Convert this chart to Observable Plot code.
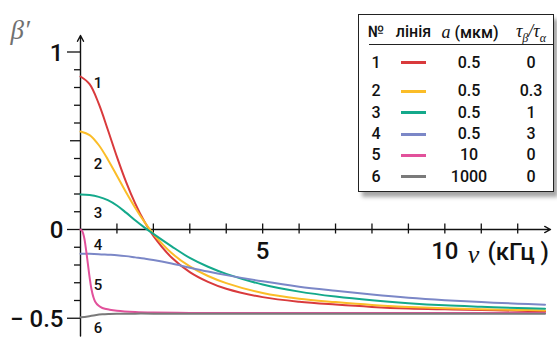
<!DOCTYPE html>
<html><head><meta charset="utf-8">
<script src="https://cdn.jsdelivr.net/npm/d3@7"></script>
<script src="https://cdn.jsdelivr.net/npm/@observablehq/plot@0.6"></script>
<style>
body{margin:0;background:#fff;}
#wrap{position:relative;width:557px;height:340px;font-family:Roboto,"Noto Sans",sans-serif;color:#111;}
#wrap svg{display:block;}
#legend{position:absolute;left:358px;top:14px;width:196px;height:178px;border:1px solid #222;background:#fff;
  box-shadow:4px 5px 4px rgba(0,0,0,0.35);box-sizing:border-box;font-size:16px;font-weight:500;}
#legend .c{position:absolute;transform:translate(-50%,-50%);white-space:nowrap;line-height:1;}
#legend .sw{position:absolute;height:3px;}
#legend .rule{position:absolute;height:1.3px;background:#222;}
.it{font-family:"Liberation Serif","DejaVu Serif",serif;font-style:italic;font-weight:400;}
</style></head><body><div id="wrap"></div>
<script>
// ---- data ----
const curveIds = ["1","2","3","4","5","6"];
const curveColors = ["#d93a3c","#fbbd28","#14a98b","#7b87c7","#e2519b","#7a7a7a"];
const aValues = ["0.5","0.5","0.5","0.5","10","1000"];
const tauRatios = ["0","0.3","1","3","0","0"];

const nuMain = [0,0.25,0.5,0.75,1,1.25,1.5,1.75,2,2.5,3,3.5,4,5,6,7,8,9,10,11,12,12.75];
const beta1 = [0.862,0.819,0.709,0.562,0.409,0.268,0.147,0.046,-0.036,-0.158,-0.240,-0.295,-0.334,-0.381,-0.407,-0.423,-0.436,-0.445,-0.450,-0.454,-0.458,-0.462];
const beta2 = [0.552,0.532,0.476,0.395,0.303,0.210,0.123,0.044,-0.025,-0.133,-0.208,-0.262,-0.302,-0.358,-0.390,-0.409,-0.425,-0.436,-0.444,-0.449,-0.453,-0.456];
const beta3 = [0.197,0.194,0.184,0.165,0.135,0.095,0.052,0.012,-0.025,-0.095,-0.160,-0.210,-0.250,-0.310,-0.350,-0.378,-0.399,-0.415,-0.427,-0.435,-0.442,-0.446];
const beta4 = [-0.137,-0.137,-0.139,-0.142,-0.145,-0.150,-0.157,-0.164,-0.172,-0.192,-0.215,-0.237,-0.257,-0.292,-0.322,-0.345,-0.366,-0.384,-0.398,-0.409,-0.418,-0.424];
const nuPink = [0,0.05,0.1,0.15,0.2,0.25,0.3,0.35,0.4,0.5,0.6,0.8,1,1.5,2,3,4,6,8,10,12.75];
const beta5 = [0,-0.01,-0.045,-0.11,-0.19,-0.27,-0.335,-0.378,-0.405,-0.43,-0.442,-0.452,-0.458,-0.465,-0.468,-0.470,-0.471,-0.471,-0.471,-0.471,-0.471];
const nuGray = [0,0.2,0.4,0.6,0.8,1,1.5,2,3,5,8,10,12.75];
const beta6 = [-0.495,-0.490,-0.483,-0.478,-0.476,-0.475,-0.474,-0.474,-0.474,-0.474,-0.474,-0.474,-0.474];

const yTickValues = [-0.5,-0.4,-0.3,-0.2,-0.1,0.1,0.2,0.3,0.4,0.5,0.6,0.7,0.8,0.9,1];
const xTickValues = [1,2,3,4,5,6,7,8,9,10,11,12];
const yTickLabels = ["1","0","− 0.5"];
const yTickLabelValues = [1,0,-0.5];
const xTickLabels = ["5","10"];
const xTickLabelValues = [5,10];

// ---- build tables ----
const series = [
  {x:nuMain,y:beta1},{x:nuMain,y:beta2},{x:nuMain,y:beta3},{x:nuMain,y:beta4},
  {x:nuPink,y:beta5},{x:nuGray,y:beta6}
].map((s,i)=>s.x.map((v,j)=>({nu:v,beta:s.y[j],id:curveIds[i]})));

const pxPerX = (550-80)/12.9, pxPerY = 177.5;
const lineMarks = series.map((d,i)=>Plot.line(d,{x:"nu",y:"beta",stroke:curveColors[i],strokeWidth:2,curve:"catmull-rom"}));

const labelY = [0.825,0.369,0.093,-0.087,-0.315,-0.555];
const curveLabels = curveIds.map((t,i)=>({t,y:labelY[i]}));

const font = "Roboto, 'Noto Sans', sans-serif";
const plot = Plot.plot({
  width:557, height:340,
  marginLeft:80, marginRight:7, marginTop:33.75, marginBottom:4.5,
  x:{domain:[0,12.9], axis:null},
  y:{domain:[-0.6,1.1], axis:null},
  style:{background:"transparent", overflow:"visible"},
  marks:[
    // y ticks
    Plot.ruleY(yTickValues,{y:d=>d,x1:0,x2:d=>-(d===1||d===-0.5?13:(d===0.5?10:6))/pxPerX,stroke:"#111",strokeWidth:1.3}),
    Plot.ruleY([0],{x1:-13/pxPerX,x2:0,stroke:"#111",strokeWidth:1.3}),
    // x ticks
    Plot.ruleX(xTickValues,{x:d=>d,y1:-4.5/pxPerY,y2:5.5/pxPerY,stroke:"#111",strokeWidth:1.3}),
    // axes with arrows
    Plot.arrow([{x1:0,y1:-0.6,x2:0,y2:1.093}],{x1:"x1",y1:"y1",x2:"x2",y2:"y2",stroke:"#111",strokeWidth:1.4,headLength:7,headAngle:55}),
    Plot.arrow([{x1:0,y1:0,x2:12.9,y2:0}],{x1:"x1",y1:"y1",x2:"x2",y2:"y2",stroke:"#111",strokeWidth:1.4,headLength:7,headAngle:55}),
    ...lineMarks,
    // tick labels
    Plot.text(yTickLabelValues,{x:0,y:d=>d,text:(d,i)=>yTickLabels[i],textAnchor:"end",
      fontSize:24,fontWeight:500,fontFamily:font,fill:"#111",dx:-17,dy:1}),
    Plot.text(xTickLabelValues,{x:d=>d,y:0,text:(d,i)=>xTickLabels[i],dy:22,fontSize:24,fontWeight:500,fontFamily:font,fill:"#111"}),
    // axis titles
    Plot.text(["ν"],{x:(473-80)/pxPerX,y:0,dy:25,fontSize:26,fontFamily:"'Liberation Serif','DejaVu Serif',serif",fontStyle:"italic",fill:"#111"}),
    Plot.text(["(кГц )"],{x:(487-80)/pxPerX,y:0,dy:23,textAnchor:"start",fontSize:24,fontWeight:500,fontFamily:font,fill:"#111"}),
    Plot.text(["β′"],{frameAnchor:"top-left",dx:-70,dy:-14,textAnchor:"start",fontSize:27,fontFamily:"'Liberation Serif','DejaVu Serif',serif",fontStyle:"italic",fill:"#707070"}),
    // curve numbers
    Plot.text(curveLabels,{x:(97.5-80)/pxPerX,y:"y",text:"t",fontSize:15,fontWeight:500,fontFamily:font,fill:"#111"})
  ]
});
const wrap = document.getElementById("wrap");
wrap.appendChild(plot);

// ---- legend table ----
const lg = document.createElement("div"); lg.id="legend"; wrap.appendChild(lg);
function cell(html,x,y,cls){const e=document.createElement("div");e.className="c"+(cls?" "+cls:"");e.innerHTML=html;e.style.left=x+"px";e.style.top=y+"px";lg.appendChild(e);return e;}
cell("№",17,17);
cell("лінія",54.5,17);
cell('<span class="it" style="font-size:18px">a</span> (мкм)',111,17);
cell('<span class="it" style="font-size:18px">τ<sub style="font-size:12px">β</sub>/τ<sub style="font-size:12px">α</sub></span>',172,18);
const r=document.createElement("div");r.className="rule";r.style.left="10px";r.style.right="0px";r.style.top="29px";lg.appendChild(r);
const rowY=[47.7,76,97.7,119.3,140,161.7];
curveIds.forEach((id,i)=>{
  cell(id,17,rowY[i]);
  const s=document.createElement("div");s.className="sw";s.style.left="42px";s.style.width="25px";
  s.style.top=(rowY[i]-1.5)+"px";s.style.background=curveColors[i];lg.appendChild(s);
  cell(aValues[i],110,rowY[i]);
  cell(tauRatios[i],172,rowY[i]);
});
</script></body></html>
